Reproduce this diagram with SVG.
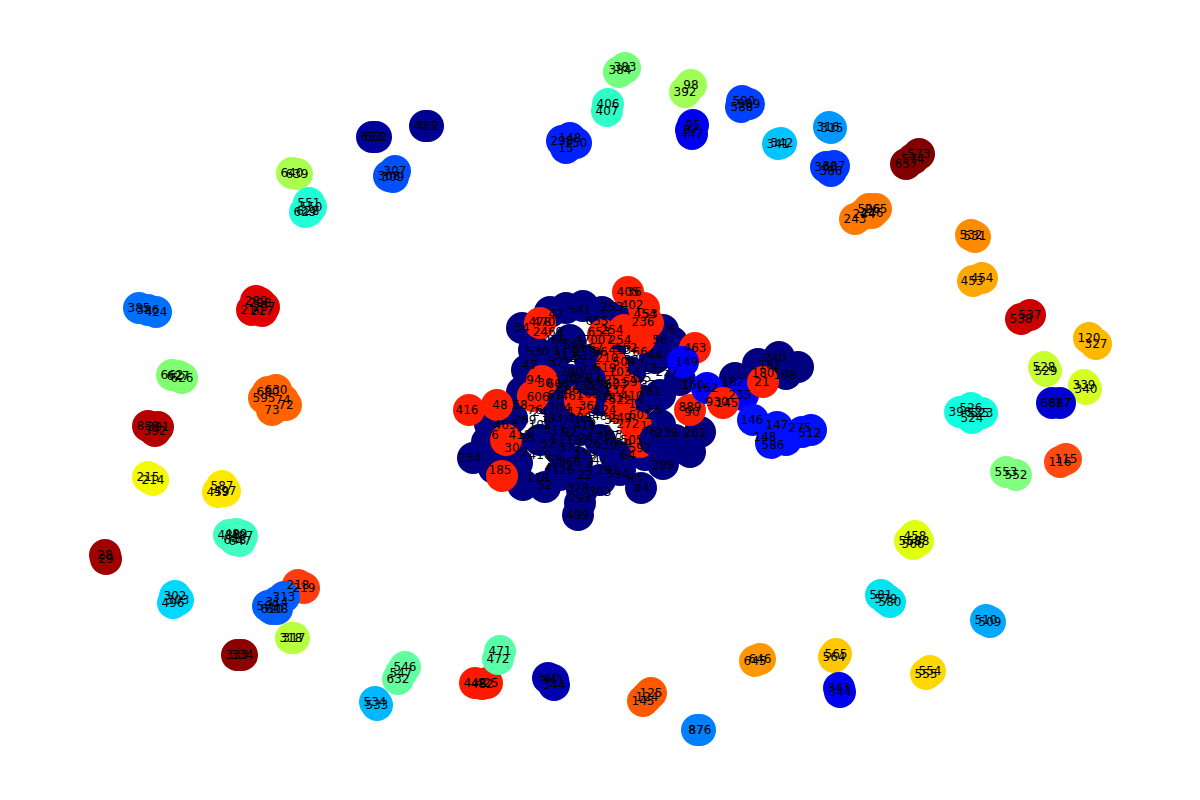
<svg xmlns="http://www.w3.org/2000/svg" width="1200" height="800" viewBox="0 0 1200 800">
<style>
circle{stroke:none}
text{font-family:"DejaVu Sans","Liberation Sans",sans-serif;font-size:12px;text-anchor:middle;dominant-baseline:central;fill:#000}
.nv{fill:#000080}.rd{fill:#ff1e00}.bl{fill:#0000f8}.bm{fill:#0010ff}
</style>
<rect width="1200" height="800" fill="#ffffff"/>
<g id="nodes">
<g id="n383"><circle cx="625" cy="68" r="16" fill="#76ff7a"/></g><g id="n384"><circle cx="619" cy="72" r="16" fill="#76ff7a"/></g>
<g id="n406"><circle cx="608" cy="104" r="16" fill="#2effc6"/></g><g id="n407"><circle cx="607" cy="111" r="16" fill="#2effc6"/></g>
<g id="n98"><circle cx="691" cy="85" r="16" fill="#a0ff56"/></g><g id="n392"><circle cx="685" cy="92" r="16" fill="#a0ff56"/></g>
<g id="n95"><circle cx="693" cy="125" r="16" fill="#0000f0"/></g><g id="n97"><circle cx="691" cy="130" r="16" fill="#0000f0"/></g><g id="n447"><circle cx="692" cy="134" r="16" fill="#0000f0"/></g>
<g id="n590"><circle cx="742" cy="101" r="16" fill="#0040ff"/></g><g id="n589"><circle cx="749" cy="104" r="16" fill="#0040ff"/></g><g id="n588"><circle cx="741" cy="107" r="16" fill="#0040ff"/></g>
<g id="n341"><circle cx="778" cy="144" r="16" fill="#00c4ff"/></g><g id="n342"><circle cx="781" cy="143" r="16" fill="#00c4ff"/></g>
<g id="n316"><circle cx="829" cy="127" r="16" fill="#0098ff"/></g><g id="n315"><circle cx="831" cy="128" r="16" fill="#0098ff"/></g>
<g id="n360"><circle cx="826" cy="167" r="16" fill="#0038ff"/></g><g id="n387"><circle cx="834" cy="166" r="16" fill="#0038ff"/></g><g id="n386"><circle cx="831" cy="171" r="16" fill="#0038ff"/></g>
<g id="n573"><circle cx="919" cy="154" r="16" fill="#800000"/></g><g id="n574"><circle cx="913" cy="159" r="16" fill="#800000"/></g><g id="n657"><circle cx="906" cy="164" r="16" fill="#800000"/></g>
<g id="n243"><circle cx="855" cy="219" r="16" fill="#ff7800"/></g><g id="n244"><circle cx="864" cy="214" r="16" fill="#ff7800"/></g><g id="n596"><circle cx="869" cy="209" r="16" fill="#ff7800"/></g><g id="n246"><circle cx="872" cy="213" r="16" fill="#ff7800"/></g><g id="n265"><circle cx="876" cy="209" r="16" fill="#ff7800"/></g>
<g id="n532"><circle cx="971" cy="235" r="16" fill="#ff8c00"/></g><g id="n531"><circle cx="975" cy="237" r="16" fill="#ff8c00"/></g>
<g id="n453"><circle cx="973" cy="281" r="16" fill="#ffa800"/></g><g id="n454"><circle cx="982" cy="278" r="16" fill="#ffa800"/></g>
<g id="n538"><circle cx="1021" cy="319" r="16" fill="#cc0000"/></g><g id="n537"><circle cx="1030" cy="315" r="16" fill="#cc0000"/></g>
<g id="n120"><circle cx="1089" cy="338" r="16" fill="#ffb800"/></g><g id="n327"><circle cx="1096" cy="344" r="16" fill="#ffb800"/></g>
<g id="n528"><circle cx="1044" cy="367" r="16" fill="#c8ff30"/></g><g id="n529"><circle cx="1046" cy="371" r="16" fill="#c8ff30"/></g>
<g id="n339"><circle cx="1084" cy="385" r="16" fill="#d4ff20"/></g><g id="n340"><circle cx="1086" cy="389" r="16" fill="#d4ff20"/></g>
<g id="n681"><circle cx="1052" cy="403" r="16" fill="#0000d0"/></g><g id="n687"><circle cx="1060" cy="403" r="16" fill="#0000d0"/></g>
<g id="n396"><circle cx="960" cy="412" r="16" fill="#10ffe0"/></g><g id="n526"><circle cx="971" cy="408" r="16" fill="#10ffe0"/></g><g id="n525"><circle cx="978" cy="413" r="16" fill="#10ffe0"/></g><g id="n524"><circle cx="972" cy="418" r="16" fill="#10ffe0"/></g><g id="n523"><circle cx="982" cy="413" r="16" fill="#10ffe0"/></g>
<g id="n116"><circle cx="1060" cy="462" r="16" fill="#ff4a10"/></g><g id="n115"><circle cx="1066" cy="459" r="16" fill="#ff4a10"/></g>
<g id="n553"><circle cx="1006" cy="472" r="16" fill="#80ff80"/></g><g id="n552"><circle cx="1016" cy="475" r="16" fill="#80ff80"/></g>
<g id="n458"><circle cx="915" cy="536" r="16" fill="#e0ff10"/></g><g id="n568"><circle cx="910" cy="541" r="16" fill="#e0ff10"/></g><g id="n588b"><circle cx="918" cy="541" r="16" fill="#e0ff10"/></g><g id="n566"><circle cx="913" cy="544" r="16" fill="#e0ff10"/></g>
<g id="n581"><circle cx="881" cy="595" r="16" fill="#00e4f0"/></g><g id="n579"><circle cx="886" cy="599" r="16" fill="#00e4f0"/></g><g id="n580"><circle cx="890" cy="602" r="16" fill="#00e4f0"/></g>
<g id="n510"><circle cx="986" cy="620" r="16" fill="#00a8ff"/></g><g id="n509"><circle cx="990" cy="622" r="16" fill="#00a8ff"/></g>
<g id="n565"><circle cx="836" cy="654" r="16" fill="#ffc800"/></g><g id="n564"><circle cx="834" cy="657" r="16" fill="#ffc800"/></g>
<g id="n554"><circle cx="930" cy="671" r="16" fill="#ffd800"/></g><g id="n555"><circle cx="926" cy="674" r="16" fill="#ffd800"/></g>
<g id="n343"><circle cx="839" cy="688" r="16" fill="#0000f0"/></g><g id="n344"><circle cx="840" cy="692" r="16" fill="#0000f0"/></g>
<g id="n645"><circle cx="755" cy="661" r="16" fill="#ff9800"/></g><g id="n646"><circle cx="760" cy="659" r="16" fill="#ff9800"/></g>
<g id="n87"><circle cx="697" cy="730" r="16" fill="#0080ff"/></g><g id="n876"><circle cx="700" cy="730" r="16" fill="#0080ff"/></g>
<g id="n125"><circle cx="651" cy="693" r="16" fill="#ff5800"/></g><g id="n124"><circle cx="647" cy="697" r="16" fill="#ff5800"/></g><g id="n145"><circle cx="643" cy="701" r="16" fill="#ff5800"/></g>
<g id="n340b"><circle cx="548" cy="678" r="16" fill="#0000b0"/></g><g id="n341b"><circle cx="553" cy="680" r="16" fill="#0000b0"/></g><g id="n344b"><circle cx="554" cy="685" r="16" fill="#0000b0"/></g>
<g id="n448"><circle cx="475" cy="683" r="16" fill="#ff1800"/></g><g id="n482"><circle cx="482" cy="684" r="16" fill="#ff1800"/></g><g id="n425"><circle cx="487" cy="683" r="16" fill="#ff1800"/></g>
<g id="n471"><circle cx="500" cy="651" r="16" fill="#56ffa8"/></g><g id="n472"><circle cx="498" cy="659" r="16" fill="#56ffa8"/></g>
<g id="n546"><circle cx="405" cy="667" r="16" fill="#60ffa0"/></g><g id="n547"><circle cx="401" cy="673" r="16" fill="#60ffa0"/></g><g id="n632"><circle cx="398" cy="679" r="16" fill="#60ffa0"/></g>
<g id="n534"><circle cx="375" cy="702" r="16" fill="#00b8ff"/></g><g id="n533"><circle cx="377" cy="705" r="16" fill="#00b8ff"/></g>
<g id="n318"><circle cx="291" cy="638" r="16" fill="#b8ff40"/></g><g id="n317"><circle cx="294" cy="638" r="16" fill="#b8ff40"/></g>
<g id="n333"><circle cx="237" cy="655" r="16" fill="#8c0000"/></g><g id="n334"><circle cx="242" cy="655" r="16" fill="#8c0000"/></g>
<g id="n218"><circle cx="298" cy="585" r="16" fill="#ff3c10"/></g><g id="n219"><circle cx="304" cy="588" r="16" fill="#ff3c10"/></g>
<g id="n313"><circle cx="284" cy="597" r="16" fill="#0060ff"/></g><g id="n314"><circle cx="277" cy="602" r="16" fill="#0060ff"/></g><g id="n509b"><circle cx="268" cy="606" r="16" fill="#0060ff"/></g><g id="n610"><circle cx="272" cy="609" r="16" fill="#0060ff"/></g><g id="n608"><circle cx="277" cy="609" r="16" fill="#0060ff"/></g>
<g id="n302"><circle cx="175" cy="596" r="16" fill="#00d8ff"/></g><g id="n303"><circle cx="178" cy="600" r="16" fill="#00d8ff"/></g><g id="n496"><circle cx="173" cy="603" r="16" fill="#00d8ff"/></g>
<g id="n28"><circle cx="105" cy="555" r="16" fill="#a00000"/></g><g id="n29"><circle cx="106" cy="559" r="16" fill="#a00000"/></g>
<g id="n488"><circle cx="229" cy="535" r="16" fill="#40ffc0"/></g><g id="n489"><circle cx="236" cy="534" r="16" fill="#40ffc0"/></g><g id="n487"><circle cx="242" cy="536" r="16" fill="#40ffc0"/></g><g id="n648"><circle cx="235" cy="540" r="16" fill="#40ffc0"/></g><g id="n647"><circle cx="240" cy="541" r="16" fill="#40ffc0"/></g>
<g id="n215"><circle cx="148" cy="477" r="16" fill="#f4fa00"/></g><g id="n214"><circle cx="153" cy="480" r="16" fill="#f4fa00"/></g>
<g id="n587"><circle cx="222" cy="486" r="16" fill="#ffe800"/></g><g id="n459"><circle cx="218" cy="492" r="16" fill="#ffe800"/></g><g id="n497"><circle cx="225" cy="491" r="16" fill="#ffe800"/></g>
<g id="n859"><circle cx="148" cy="426" r="16" fill="#b40000"/></g><g id="n391"><circle cx="158" cy="427" r="16" fill="#b40000"/></g><g id="n392b"><circle cx="155" cy="431" r="16" fill="#b40000"/></g>
<g id="n662"><circle cx="172" cy="375" r="16" fill="#80ff70"/></g><g id="n627"><circle cx="178" cy="376" r="16" fill="#80ff70"/></g><g id="n626"><circle cx="182" cy="378" r="16" fill="#80ff70"/></g>
<g id="n385"><circle cx="139" cy="308" r="16" fill="#0070ff"/></g><g id="n386b"><circle cx="148" cy="310" r="16" fill="#0070ff"/></g><g id="n424"><circle cx="156" cy="312" r="16" fill="#0070ff"/></g>
<g id="n289"><circle cx="256" cy="301" r="16" fill="#e00000"/></g><g id="n298"><circle cx="260" cy="303" r="16" fill="#e00000"/></g><g id="n297"><circle cx="264" cy="307" r="16" fill="#e00000"/></g><g id="n210"><circle cx="252" cy="310" r="16" fill="#e00000"/></g><g id="n217"><circle cx="262" cy="311" r="16" fill="#e00000"/></g>
<g id="n680"><circle cx="268" cy="392" r="16" fill="#ff6400"/></g><g id="n630"><circle cx="276" cy="390" r="16" fill="#ff6400"/></g><g id="n595"><circle cx="264" cy="398" r="16" fill="#ff6400"/></g><g id="n74"><circle cx="283" cy="400" r="16" fill="#ff6400"/></g><g id="n72"><circle cx="286" cy="405" r="16" fill="#ff6400"/></g><g id="n73"><circle cx="272" cy="410" r="16" fill="#ff6400"/></g>
<g id="n640"><circle cx="292" cy="173" r="16" fill="#a8ff50"/></g><g id="n639"><circle cx="297" cy="174" r="16" fill="#a8ff50"/></g>
<g id="n551"><circle cx="309" cy="203" r="16" fill="#20ffd8"/></g><g id="n550"><circle cx="311" cy="207" r="16" fill="#20ffd8"/></g><g id="n629"><circle cx="305" cy="212" r="16" fill="#20ffd8"/></g><g id="n628"><circle cx="308" cy="211" r="16" fill="#20ffd8"/></g>
<g id="n653"><circle cx="372" cy="137" r="16" fill="#00009c"/></g><g id="n652"><circle cx="376" cy="137" r="16" fill="#00009c"/></g>
<g id="n411"><circle cx="425" cy="126" r="16" fill="#000090"/></g><g id="n412"><circle cx="428" cy="126" r="16" fill="#000090"/></g>
<g id="n307"><circle cx="395" cy="171" r="16" fill="#0050ff"/></g><g id="n308"><circle cx="389" cy="176" r="16" fill="#0050ff"/></g><g id="n309"><circle cx="393" cy="177" r="16" fill="#0050ff"/></g>
<g id="n298b"><circle cx="562" cy="141" r="16" fill="#0020ff"/></g><g id="n148b"><circle cx="570" cy="138" r="16" fill="#0020ff"/></g><g id="n150"><circle cx="576" cy="143" r="16" fill="#0020ff"/></g><g id="n15"><circle cx="566" cy="148" r="16" fill="#0020ff"/></g>
<g id="c01"><circle class="nv" cx="522" cy="328" r="16"/></g><g id="c02"><circle class="nv" cx="550" cy="312" r="16"/></g><g id="c03"><circle class="nv" cx="566" cy="308" r="16"/></g><g id="c04"><circle class="nv" cx="583" cy="306" r="16"/></g><g id="c05"><circle class="nv" cx="602" cy="312" r="16"/></g><g id="c06"><circle class="nv" cx="616" cy="318" r="16"/></g><g id="c07"><circle class="nv" cx="663" cy="330" r="16"/></g><g id="c08"><circle class="nv" cx="672" cy="342" r="16"/></g>
<g id="c09"><circle class="nv" cx="534" cy="350" r="16"/></g><g id="c10"><circle class="nv" cx="527" cy="370" r="16"/></g><g id="c11"><circle class="nv" cx="522" cy="392" r="16"/></g><g id="c12"><circle class="nv" cx="512" cy="418" r="16"/></g><g id="c13"><circle class="nv" cx="490" cy="424" r="16"/></g><g id="c14"><circle class="nv" cx="487" cy="442" r="16"/></g><g id="c15"><circle class="nv" cx="512" cy="445" r="16"/></g><g id="c16"><circle class="nv" cx="473" cy="458" r="16"/></g><g id="c17"><circle class="nv" cx="494" cy="468" r="16"/></g><g id="c18"><circle class="nv" cx="517" cy="463" r="16"/></g><g id="c19"><circle class="nv" cx="523" cy="485" r="16"/></g><g id="c20"><circle class="nv" cx="545" cy="487" r="16"/></g><g id="c21"><circle class="nv" cx="560" cy="475" r="16"/></g><g id="c22"><circle class="nv" cx="577" cy="462" r="16"/></g><g id="c23"><circle class="nv" cx="582" cy="490" r="16"/></g><g id="c24"><circle class="nv" cx="580" cy="503" r="16"/></g><g id="c25"><circle class="nv" cx="578" cy="515" r="16"/></g><g id="c26"><circle class="nv" cx="600" cy="480" r="16"/></g><g id="c27"><circle class="nv" cx="620" cy="470" r="16"/></g><g id="c28"><circle class="nv" cx="641" cy="488" r="16"/></g><g id="c29"><circle class="nv" cx="663" cy="464" r="16"/></g><g id="c30"><circle class="nv" cx="645" cy="455" r="16"/></g><g id="c31"><circle class="nv" cx="690" cy="452" r="16"/></g><g id="c32"><circle class="nv" cx="675" cy="440" r="16"/></g><g id="c33"><circle class="nv" cx="660" cy="425" r="16"/></g><g id="c34"><circle class="nv" cx="640" cy="400" r="16"/></g><g id="c35"><circle class="nv" cx="600" cy="440" r="16"/></g><g id="c36"><circle class="nv" cx="580" cy="430" r="16"/></g><g id="c37"><circle class="nv" cx="560" cy="420" r="16"/></g><g id="c38"><circle class="nv" cx="550" cy="400" r="16"/></g><g id="c39"><circle class="nv" cx="570" cy="380" r="16"/></g><g id="c40"><circle class="nv" cx="590" cy="360" r="16"/></g><g id="c41"><circle class="nv" cx="610" cy="350" r="16"/></g><g id="c42"><circle class="nv" cx="560" cy="350" r="16"/></g><g id="c43"><circle class="nv" cx="548" cy="370" r="16"/></g><g id="c44"><circle class="nv" cx="630" cy="372" r="16"/></g><g id="c45"><circle class="nv" cx="660" cy="395" r="16"/></g><g id="c46"><circle class="nv" cx="680" cy="380" r="16"/></g><g id="c47"><circle class="nv" cx="655" cy="358" r="16"/></g><g id="c48"><circle class="nv" cx="600" cy="400" r="16"/></g><g id="c49"><circle class="nv" cx="540" cy="440" r="16"/></g><g id="c50"><circle class="nv" cx="560" cy="450" r="16"/></g>
<g id="c51"><circle class="nv" cx="735" cy="378" r="16"/></g><g id="c52"><circle class="nv" cx="758" cy="364" r="16"/></g><g id="c53"><circle class="nv" cx="779" cy="357" r="16"/></g><g id="c54"><circle class="nv" cx="798" cy="367" r="16"/></g><g id="c55"><circle class="nv" cx="786" cy="374" r="16"/></g><g id="c56"><circle class="nv" cx="700" cy="432" r="16"/></g>
<g id="c57"><circle class="rd" cx="628" cy="292" r="16"/></g><g id="c58"><circle class="rd" cx="644" cy="308" r="16"/></g><g id="c59"><circle class="rd" cx="648" cy="323" r="16"/></g><g id="c60"><circle class="rd" cx="640" cy="338" r="16"/></g><g id="c61"><circle class="rd" cx="540" cy="323" r="16"/></g><g id="c62"><circle class="rd" cx="624" cy="330" r="16"/></g>
<g id="c63"><circle class="rd" cx="469" cy="410" r="16"/></g><g id="c64"><circle class="rd" cx="497" cy="405" r="16"/></g><g id="c65"><circle class="rd" cx="533" cy="396" r="16"/></g><g id="c66"><circle class="rd" cx="542" cy="381" r="16"/></g><g id="c67"><circle class="rd" cx="506" cy="440" r="16"/></g><g id="c68"><circle class="rd" cx="502" cy="476" r="16"/></g>
<g id="c69"><circle class="rd" cx="612" cy="365" r="16"/></g><g id="c70"><circle class="rd" cx="625" cy="388" r="16"/></g><g id="c71"><circle class="rd" cx="620" cy="408" r="16"/></g><g id="c72"><circle class="rd" cx="636" cy="426" r="16"/></g><g id="c73"><circle class="rd" cx="640" cy="442" r="16"/></g><g id="c74"><circle class="rd" cx="603" cy="335" r="16"/></g><g id="c75"><circle class="rd" cx="580" cy="400" r="16"/></g>
<g id="c76"><circle class="rd" cx="695" cy="348" r="16"/></g><g id="c77"><circle class="bl" cx="683" cy="362" r="16"/></g><g id="c78"><circle class="rd" cx="690" cy="410" r="16"/></g>
<g id="c79"><circle class="bl" cx="707" cy="388" r="16"/></g><g id="c80"><circle class="bl" cx="743" cy="395" r="16"/></g><g id="c81"><circle class="rd" cx="723" cy="403" r="16"/></g><g id="c82"><circle class="rd" cx="763" cy="382" r="16"/></g><g id="c83"><circle class="bm" cx="753" cy="420" r="16"/></g><g id="c84"><circle class="bm" cx="777" cy="427" r="16"/></g><g id="c85"><circle class="bm" cx="811" cy="430" r="16"/></g><g id="c86"><circle class="bm" cx="771" cy="443" r="16"/></g><g id="c87"><circle class="bm" cx="786" cy="440" r="16"/></g><g id="c88"><circle class="bm" cx="802" cy="432" r="16"/></g>
<g id="c89"><circle class="nv" cx="590" cy="380" r="16"/></g><g id="c90"><circle class="nv" cx="570" cy="340" r="16"/></g><g id="c91"><circle class="nv" cx="655" cy="440" r="16"/></g><g id="c92"><circle class="nv" cx="615" cy="455" r="16"/></g>
</g>
<g id="labels">
<text x="625" y="67">383</text><text x="620" y="70">384</text>
<text x="608" y="104">406</text><text x="607" y="111">407</text>
<text x="691" y="85">98</text><text x="685" y="92">392</text>
<text x="693" y="125">95</text><text x="691" y="130">97</text><text x="692" y="134">447</text>
<text x="744" y="101">590</text><text x="749" y="104">589</text><text x="742" y="107">588</text>
<text x="778" y="144">341</text><text x="782" y="143">342</text>
<text x="828" y="127">316</text><text x="832" y="128">315</text>
<text x="826" y="167">360</text><text x="834" y="166">387</text><text x="831" y="171">386</text>
<text x="919" y="154">573</text><text x="913" y="159">574</text><text x="906" y="164">657</text>
<text x="855" y="219">243</text><text x="864" y="214">244</text><text x="869" y="209">596</text><text x="872" y="213">246</text><text x="876" y="209">265</text>
<text x="971" y="235">532</text><text x="975" y="236">531</text>
<text x="972" y="281">453</text><text x="982" y="278">454</text>
<text x="1021" y="319">538</text><text x="1030" y="315">537</text>
<text x="1089" y="338">120</text><text x="1096" y="344">327</text>
<text x="1044" y="367">528</text><text x="1046" y="371">529</text>
<text x="1084" y="385">339</text><text x="1086" y="389">340</text>
<text x="1052" y="403">681</text><text x="1060" y="403">687</text>
<text x="960" y="412">396</text><text x="971" y="408">526</text><text x="978" y="413">525</text><text x="972" y="418">524</text><text x="982" y="413">523</text>
<text x="1060" y="462">116</text><text x="1066" y="459">115</text>
<text x="1006" y="472">553</text><text x="1016" y="475">552</text>
<text x="915" y="536">458</text><text x="910" y="541">568</text><text x="918" y="541">588</text><text x="913" y="544">566</text>
<text x="881" y="595">581</text><text x="886" y="599">579</text><text x="890" y="602">580</text>
<text x="986" y="620">510</text><text x="990" y="622">509</text>
<text x="836" y="654">565</text><text x="834" y="657">564</text>
<text x="930" y="671">554</text><text x="926" y="674">555</text>
<text x="839" y="688">343</text><text x="840" y="692">344</text>
<text x="755" y="661">645</text><text x="760" y="659">646</text>
<text x="696" y="730">87</text><text x="700" y="730">876</text>
<text x="651" y="693">125</text><text x="647" y="697">124</text><text x="643" y="701">145</text>
<text x="548" y="678">340</text><text x="553" y="680">341</text><text x="554" y="685">344</text>
<text x="475" y="683">448</text><text x="482" y="684">482</text><text x="487" y="683">425</text>
<text x="500" y="651">471</text><text x="498" y="659">472</text>
<text x="405" y="667">546</text><text x="401" y="673">547</text><text x="398" y="679">632</text>
<text x="375" y="702">534</text><text x="377" y="705">533</text>
<text x="291" y="638">318</text><text x="294" y="638">317</text>
<text x="237" y="655">333</text><text x="242" y="655">334</text>
<text x="298" y="585">218</text><text x="304" y="588">219</text>
<text x="284" y="597">313</text><text x="277" y="602">314</text><text x="268" y="606">509</text><text x="272" y="609">610</text><text x="277" y="609">608</text>
<text x="175" y="596">302</text><text x="178" y="600">303</text><text x="173" y="603">496</text>
<text x="105" y="555">28</text><text x="106" y="559">29</text>
<text x="229" y="535">488</text><text x="236" y="534">489</text><text x="242" y="536">487</text><text x="235" y="540">648</text><text x="240" y="541">647</text>
<text x="148" y="477">215</text><text x="153" y="480">214</text>
<text x="222" y="486">587</text><text x="218" y="492">459</text><text x="225" y="491">497</text>
<text x="148" y="426">859</text><text x="158" y="427">391</text><text x="155" y="431">392</text>
<text x="172" y="375">662</text><text x="178" y="376">627</text><text x="182" y="378">626</text>
<text x="139" y="308">385</text><text x="148" y="310">386</text><text x="156" y="312">424</text>
<text x="256" y="301">289</text><text x="260" y="303">298</text><text x="264" y="307">297</text><text x="252" y="310">210</text><text x="262" y="311">217</text>
<text x="268" y="392">680</text><text x="276" y="390">630</text><text x="264" y="398">595</text><text x="283" y="400">74</text><text x="286" y="405">72</text><text x="272" y="410">73</text>
<text x="292" y="173">640</text><text x="297" y="174">639</text>
<text x="309" y="203">551</text><text x="311" y="207">550</text><text x="305" y="212">629</text><text x="308" y="211">628</text>
<text x="372" y="137">653</text><text x="376" y="137">652</text>
<text x="425" y="126">411</text><text x="428" y="126">412</text>
<text x="395" y="171">307</text><text x="389" y="176">308</text><text x="393" y="177">309</text>
<text x="562" y="141">298</text><text x="570" y="138">148</text><text x="576" y="143">150</text><text x="566" y="148">15</text>
<text x="628" y="292">405</text><text x="634" y="292">36</text><text x="632" y="305">402</text><text x="645" y="314">454</text><text x="650" y="314">53</text><text x="643" y="322">236</text><text x="612" y="307">253</text><text x="612" y="330">254</text>
<text x="580" y="310">541</text><text x="556" y="314">42</text><text x="522" y="328">34</text><text x="540" y="322">478</text><text x="544" y="322">470</text><text x="548" y="332">2469</text><text x="597" y="321">655</text><text x="599" y="332">653</text><text x="594" y="340">47007</text>
<text x="695" y="348">463</text><text x="687" y="362">149</text><text x="667" y="372">237</text><text x="693" y="385">160</text><text x="707" y="388">162</text><text x="717" y="402">930</text><text x="727" y="403">145</text><text x="690" y="407">889</text><text x="692" y="412">90</text><text x="695" y="433">261</text><text x="667" y="433">239</text>
<text x="663" y="465">399</text><text x="635" y="478">83</text><text x="642" y="488">84</text><text x="618" y="474">594</text><text x="578" y="488">328</text><text x="580" y="498">293</text><text x="578" y="515">499</text><text x="545" y="485">52</text><text x="538" y="478">118</text><text x="500" y="470">185</text><text x="470" y="458">234</text><text x="467" y="410">416</text><text x="500" y="405">48</text><text x="538" y="397">606</text><text x="545" y="383">30</text>
<text x="763" y="373">180</text><text x="762" y="382">21</text><text x="775" y="358">240</text><text x="770" y="365">182</text><text x="785" y="375">108</text><text x="733" y="382">182</text><text x="740" y="395">235</text><text x="752" y="420">146</text><text x="777" y="425">147</text><text x="800" y="428">275</text><text x="810" y="433">512</text><text x="765" y="437">148</text><text x="773" y="445">586</text>
<text x="560" y="350">47</text><text x="575" y="345">560</text><text x="585" y="356">612</text><text x="600" y="352">96</text><text x="620" y="350">413</text><text x="635" y="360">527</text><text x="655" y="355">44</text><text x="560" y="362">571</text><text x="572" y="372">290</text><text x="588" y="370">77</text><text x="605" y="368">619</text><text x="620" y="372">103</text><text x="640" y="378">355</text><text x="555" y="395">61</text><text x="568" y="390">486</text><text x="583" y="386">230</text><text x="600" y="385">598</text><text x="615" y="390">137</text><text x="632" y="396">410</text><text x="650" y="392">161</text><text x="560" y="408">204</text><text x="575" y="412">17</text><text x="590" y="406">361</text><text x="605" y="410">524</text><text x="620" y="418">249</text><text x="640" y="415">601</text><text x="655" y="410">55</text><text x="525" y="420">269</text><text x="540" y="425">102</text><text x="555" y="430">311</text><text x="570" y="432">92</text><text x="585" y="425">418</text><text x="600" y="430">220</text><text x="615" y="435">33</text><text x="632" y="440">505</text><text x="650" y="432">76</text><text x="505" y="425">463</text><text x="495" y="435">6</text><text x="512" y="448">30</text><text x="525" y="452">2</text><text x="540" y="455">410</text><text x="555" y="460">58</text><text x="570" y="448">372</text><text x="585" y="455">279</text><text x="600" y="460">47</text><text x="520" y="435">419</text><text x="535" y="410">76</text><text x="530" y="365">47</text><text x="538" y="352">530</text><text x="555" y="340">466</text><text x="620" y="340">254</text><text x="660" y="340">56</text><text x="672" y="330">6</text><text x="592" y="420">5</text><text x="612" y="398">281</text><text x="628" y="455">64</text><text x="610" y="445">39</text><text x="585" y="475">22</text><text x="563" y="470">126</text><text x="600" y="492">303</text>
<text x="565" y="356">312</text><text x="578" y="360">45</text><text x="592" y="348">667</text><text x="607" y="358">210</text><text x="624" y="362">508</text><text x="640" y="352">66</text><text x="566" y="380">170</text><text x="578" y="378">399</text><text x="594" y="378">27</text><text x="608" y="380">625</text><text x="630" y="382">59</text><text x="646" y="368">213</text><text x="558" y="384">606</text><text x="572" y="396">461</text><text x="588" y="394">168</text><text x="604" y="396">16</text><text x="620" y="400">522</text><text x="636" y="404">12</text><text x="552" y="418">393</text><text x="566" y="420">7</text><text x="580" y="418">203</text><text x="596" y="416">448</text><text x="612" y="420">35</text><text x="628" y="424">272</text><text x="644" y="426">1</text><text x="548" y="444">32</text><text x="562" y="440">511</text><text x="578" y="440">187</text><text x="594" y="444">26</text><text x="608" y="436">467</text><text x="624" y="444">69</text><text x="640" y="448">592</text><text x="552" y="468">41</text><text x="570" y="462">366</text><text x="590" y="466">4</text><text x="608" y="470">291</text><text x="576" y="350">9</text><text x="626" y="348">152</text><text x="648" y="385">37</text><text x="586" y="438">24</text><text x="616" y="384">603</text><text x="534" y="380">94</text><text x="540" y="412">24</text><text x="528" y="438">13</text><text x="520" y="405">58</text>
</g>
</svg>
